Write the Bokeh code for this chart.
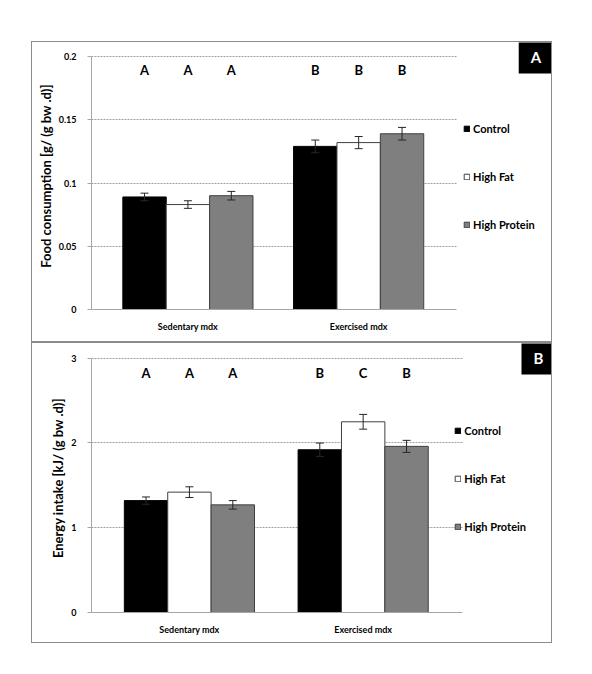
from bokeh.plotting import figure
from bokeh.models import Range1d, FixedTicker, Legend, LegendItem, Label, ColumnDataSource
from bokeh.transform import dodge
from bokeh.layouts import column
from bokeh.core.properties import value
from bokeh.embed import file_html
from bokeh.resources import INLINE

# ---------------- data ----------------
groups = ["Sedentary mdx", "Exercised mdx"]
diets = ["Control", "High Fat", "High Protein"]

food_control = [0.089, 0.129]
food_highfat = [0.083, 0.132]
food_highprotein = [0.090, 0.139]
food_err_control = [0.003, 0.005]
food_err_highfat = [0.003, 0.0048]
food_err_highprotein = [0.0034, 0.005]
food_letters_control = ["A", "B"]
food_letters_highfat = ["A", "B"]
food_letters_highprotein = ["A", "B"]
food_ticks = [0, 0.05, 0.1, 0.15, 0.2]
food_tick_labels = ["0", "0.05", "0.1", "0.15", "0.2"]

energy_control = [1.32, 1.92]
energy_highfat = [1.42, 2.25]
energy_highprotein = [1.27, 1.96]
energy_err_control = [0.043, 0.079]
energy_err_highfat = [0.063, 0.087]
energy_err_highprotein = [0.05, 0.071]
energy_letters_control = ["A", "B"]
energy_letters_highfat = ["A", "C"]
energy_letters_highprotein = ["A", "B"]
energy_ticks = [0, 1, 2, 3]
energy_tick_labels = ["0", "1", "2", "3"]

group_index = list(range(len(groups)))

# ---------------- styles ----------------
FONT = "Lato"
FILLS = ["#000000", "#ffffff", "#7f7f7f"]
OUTLINES = ["#000000", "#404040", "#404040"]
AXIS_COLOR = "#a6a6a6"
ERR_COLOR = "#262626"
CANVAS_W = 519
CANVAS_H = 299


def make_panel(vals, errs, letters, ticks, tick_labels, ylabel, panel_letter,
               left, bottom, px_per_group, px_per_value, first_center_px,
               plot_right_px, box_center_px, legend_xy, letter_drop_px, margin):
    frame_w = CANVAS_W - left
    frame_h = CANVAS_H - bottom
    y_top = ticks[-1]
    y_end = frame_h / px_per_value
    x_start = -first_center_px / px_per_group
    x_end = x_start + frame_w / px_per_group
    x_plot_end = x_start + plot_right_px / px_per_group
    bar_w = 43.2 / px_per_group

    p = figure(x_range=Range1d(x_start, x_end), y_range=Range1d(0, y_end),
               frame_width=frame_w, frame_height=frame_h,
               min_border_left=left, min_border_right=0,
               min_border_top=0, min_border_bottom=bottom,
               output_backend="svg", toolbar_location=None,
               background_fill_color="white", border_fill_color="white",
               styles={"border": "1px solid #8c8c8c"}, margin=margin)
    p.outline_line_color = None
    p.xgrid.grid_line_color = None
    p.ygrid.grid_line_color = "#a0a0a0"
    p.ygrid.grid_line_dash = "2 1"
    p.ygrid.ticker = FixedTicker(ticks=ticks)
    p.ygrid.cross_bounds = (x_start, x_plot_end)

    yax = p.yaxis[0]
    yax.ticker = FixedTicker(ticks=ticks)
    yax.bounds = (0, y_top)
    yax.major_label_overrides = {t: l for t, l in zip(ticks, tick_labels)}
    yax.axis_line_color = AXIS_COLOR
    yax.major_tick_line_color = AXIS_COLOR
    yax.major_tick_out = 4
    yax.major_tick_in = 0
    yax.minor_tick_line_color = None
    yax.major_label_standoff = 11
    yax.major_label_text_font = FONT
    yax.major_label_text_font_style = "bold"
    yax.major_label_text_font_size = "9px"
    yax.major_label_text_color = "black"
    yax.axis_label = ylabel
    yax.axis_label_text_font = FONT
    yax.axis_label_text_font_style = "bold"
    yax.axis_label_text_font_size = "13px"
    yax.axis_label_text_color = "black"
    yax.axis_label_standoff = 2

    xax = p.xaxis[0]
    xax.ticker = FixedTicker(ticks=group_index)
    xax.major_label_overrides = {i: g for i, g in zip(group_index, groups)}
    xax.bounds = (x_start, x_plot_end)
    xax.axis_line_color = AXIS_COLOR
    xax.major_tick_line_color = None
    xax.minor_tick_line_color = None
    xax.major_label_standoff = 5
    xax.major_label_text_font = FONT
    xax.major_label_text_font_style = "bold"
    xax.major_label_text_font_size = "9px"
    xax.major_label_text_color = "black"

    letter_y = y_top - letter_drop_px / px_per_value
    items = []
    for i, name in enumerate(diets):
        off = (i - 1) * bar_w
        v = vals[i]
        e = errs[i]
        src = ColumnDataSource(dict(
            gx=group_index, top=v,
            upper=[a + b for a, b in zip(v, e)],
            lower=[a - b for a, b in zip(v, e)],
            letter=letters[i],
            ly=[letter_y] * len(groups),
        ))
        xs = dodge("gx", off)
        r = p.vbar(x=xs, top="top", width=bar_w, source=src,
                   fill_color=FILLS[i], line_color=OUTLINES[i], line_width=1)
        p.segment(x0=xs, x1=xs, y0="lower", y1="upper", source=src,
                  line_color=ERR_COLOR, line_width=1)
        p.scatter(x=xs, y="upper", source=src, marker="dash", size=8,
                  line_color=ERR_COLOR, line_width=1)
        p.scatter(x=xs, y="lower", source=src, marker="dash", size=8,
                  line_color=ERR_COLOR, line_width=1)
        p.text(x=xs, y="ly", text="letter", source=src, text_align="center",
               text_baseline="middle", text_font=value(FONT), text_font_style="bold",
               text_font_size="13px", text_color="black")
        items.append(LegendItem(label=name, renderers=[r]))

    legend = Legend(items=items, location=legend_xy,
                    orientation="vertical", padding=0, margin=0, spacing=34,
                    label_height=14, glyph_height=7, glyph_width=7,
                    label_standoff=3, label_text_font=FONT,
                    label_text_font_style="bold", label_text_font_size="11px",
                    label_text_color="black",
                    border_line_color=None, background_fill_alpha=0)
    p.add_layout(legend, "center")

    bx, by = box_center_px
    box = Label(x=x_start + bx / px_per_group, y=y_end - by / px_per_value,
                text=panel_letter,
                text_align="center", text_baseline="middle", text_color="white",
                text_font=FONT, text_font_style="bold", text_font_size="15px",
                background_fill_color="black",
                padding=dict(left=12, right=12, top=8, bottom=8))
    p.add_layout(box)
    return p


# Panel A: frame spans page x 92..552, y 43..308
pA = make_panel(
    [food_control, food_highfat, food_highprotein],
    [food_err_control, food_err_highfat, food_err_highprotein],
    [food_letters_control, food_letters_highfat, food_letters_highprotein],
    food_ticks, food_tick_labels, "Food consumption [g/ (g bw .d)]", "A",
    left=59, bottom=34, px_per_group=170, px_per_value=251 / 0.2,
    first_center_px=96, plot_right_px=363, box_center_px=(442.5, 14),
    legend_xy=(372, 78), letter_drop_px=13, margin=(41, 0, 0, 31))

# Panel B: frame spans page x 89..552, y 344..611
pB = make_panel(
    [energy_control, energy_highfat, energy_highprotein],
    [energy_err_control, energy_err_highfat, energy_err_highprotein],
    [energy_letters_control, energy_letters_highfat, energy_letters_highprotein],
    energy_ticks, energy_tick_labels, "Energy intake [kJ/ (g bw .d)]", "B",
    left=56, bottom=32, px_per_group=173, px_per_value=252.4 / 3,
    first_center_px=97.5, plot_right_px=369, box_center_px=(445, 14),
    legend_xy=(375, 79), letter_drop_px=14.7, margin=(0, 0, 0, 31))

layout = column(pA, pB)
open("out.html", "w").write(file_html(layout, INLINE))
